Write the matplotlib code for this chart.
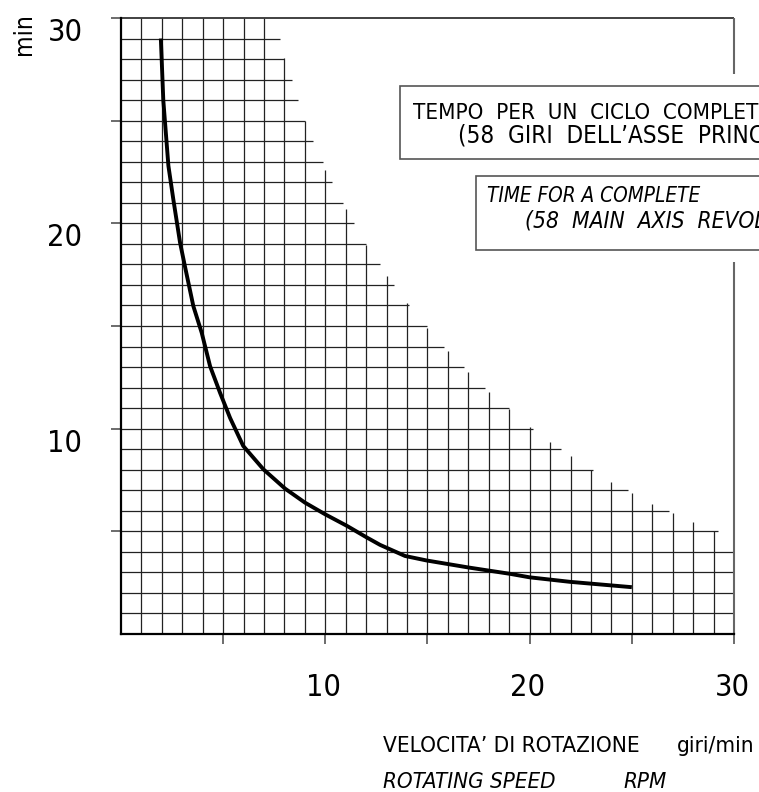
import matplotlib
matplotlib.use("Agg")
import matplotlib.pyplot as plt
import matplotlib.transforms as mtransforms
from matplotlib.patches import Rectangle
from matplotlib import font_manager as fm

# ---------------- data ----------------
speed_rpm = [1.95, 2.07, 2.32, 2.56, 2.89, 3.13, 3.54, 3.95, 4.36, 4.85, 5.34, 5.98,
             6.97, 8.03, 9.0, 9.99, 11.05, 12.03, 12.68, 13.9, 14.96, 17.0, 19.04,
             20.0, 21.98, 25.0]
time_min = [29.0, 26.0, 22.8, 21.17, 19.06, 17.9, 15.97, 14.67, 13.04, 11.74, 10.52,
            9.16, 8.02, 7.08, 6.4, 5.83, 5.27, 4.7, 4.34, 3.8, 3.58, 3.24, 2.93,
            2.76, 2.54, 2.28]

# staircase grid: top of each vertical grid line (x = 1..29)
grid_x = list(range(1, 30))
grid_x_top = [30, 30, 30, 30, 30, 30, 30, 28.05, 25.0, 22.6, 20.7, 18.95, 17.45,
              16.1, 14.9, 13.8, 12.75, 11.8, 10.95, 10.1, 9.37, 8.65, 8.0, 7.42,
              6.88, 6.34, 5.9, 5.46, 5.0]
# right end of each horizontal grid line (y = 1..29)
grid_y = list(range(1, 30))
grid_y_end = [30, 30, 30, 30, 29.2, 26.8, 24.8, 23.08, 21.54, 20.18, 19.0, 17.8,
              16.8, 15.83, 14.96, 14.1, 13.38, 12.68, 12.0, 11.42, 10.85, 10.34,
              9.87, 9.4, 9.0, 8.67, 8.35, 8.0, 7.8]

x_tick_labels = ["10", "20", "30"]
x_tick_vals = [10, 20, 30]
y_tick_labels = ["10", "20", "30"]
y_tick_vals = [10, 20, 30]

box1_line1 = ["TEMPO", "PER", "UN", "CICLO", "COMPLETO"]
box1_line2 = ["(58", "GIRI", "DELL’ASSE", "PRINCIPALE)"]
box2_line1 = ["TIME", "FOR", "A", "COMPLETE"]
box2_line2 = ["(58", "MAIN", "AXIS", "REVOLUTIONS)"]

# ---------------- font choice: prefer a narrow face ----------------
family, stretch = "Liberation Sans", "normal"
for f in fm.fontManager.ttflist:
    fname = f.fname.lower()
    if ("narrow" in f.name.lower() or "condensed" in f.name.lower()
            or "condensed" in fname or "narrow" in fname) and f.style == "normal":
        if "mono" in fname or "serif" in f.name.lower() and "sans" not in f.name.lower():
            continue
        family, stretch = f.name, f.stretch
        break
plt.rcParams["font.family"] = [family, "Liberation Sans", "DejaVu Sans"]

# ---------------- figure ----------------
W, H = 759, 792
fig = plt.figure(figsize=(W / 100, H / 100), dpi=100)
fig.patch.set_facecolor("white")
renderer = fig.canvas.get_renderer()

def fx(px):
    return px / W

def fy(py):
    return 1 - py / H

def cap_size(cap_px):
    # font size (pt) giving a capital height of cap_px pixels
    return cap_px / 0.729 / (100 / 72)

def width_of(s, size, style="normal"):
    t = fig.text(0, 0, s, fontsize=size, style=style, fontstretch=stretch)
    w = t.get_window_extent(renderer).width
    t.remove()
    return w

def fit_size(s, width_px, cap_px, style="normal"):
    w = width_of(s, 20, style)
    return min(20 * width_px / w, cap_size(cap_px) * 1.06)

def spaced_line(x0, y0, words, n_vis, last_vis, target_w, cap_px, style="normal"):
    """Wide CAD-like word spacing: choose the number of spaces so that the visible
    part of the line spans about the same width as in the drawing."""
    base = cap_size(cap_px)
    vis_words = words[:n_vis - 1] + [last_vis]
    best = None
    for n in range(1, 3):
        w = width_of((" " * n).join(vis_words), base, style)
        if best is None or abs(w - target_w) < abs(best[1] - target_w):
            best = (n, w)
    n, w = best
    size = base * min(max(target_w / w, 1.0), 1.1)
    fig.text(fx(x0), fy(y0), (" " * n).join(words), ha="left", va="baseline",
             fontsize=size, fontstretch=stretch, style=style, zorder=6)

ax_left, ax_right, ax_top, ax_bot = 121, 734, 18, 634
ax = fig.add_axes([fx(ax_left), fy(ax_bot), (ax_right - ax_left) / W, (ax_bot - ax_top) / H])
ax.set_xlim(0, 30)
ax.set_ylim(0, 30)
ax.set_facecolor("none")
for s in ["top", "right"]:
    ax.spines[s].set_visible(False)
for s in ["left", "bottom"]:
    ax.spines[s].set_linewidth(1.6)
    ax.spines[s].set_color("black")
ax.set_xticks([5, 10, 15, 20, 25, 30])
ax.set_yticks([5, 10, 15, 20, 25, 30])
ax.set_xticklabels([])
ax.set_yticklabels([])
ax.tick_params(axis="both", direction="out", length=7.5, width=1.1, color="#444")

# grid
ax.vlines(grid_x, 0, grid_x_top, colors="#222", linewidth=0.9, zorder=1)
ax.hlines(grid_y, 0, grid_y_end, colors="#222", linewidth=0.9, zorder=1)

# top border and right border (interrupted by the caption boxes)
ax.hlines([30], 0, 30, colors="#333", linewidth=1.3, zorder=2, clip_on=False)
ax.vlines([30, 30], [27.25, 0], [30, 18.1], colors="#666", linewidth=1.5, zorder=2,
          clip_on=False)

# curve
ax.plot(speed_rpm, time_min, color="black", linewidth=2.8, solid_capstyle="butt",
        solid_joinstyle="round", zorder=4)

# tick labels
num_size = 22
tx = mtransforms.blended_transform_factory(ax.transData, fig.transFigure)
for v, lab in zip(x_tick_vals, x_tick_labels):
    ax.text(v - 0.1, fy(696), lab, transform=tx, ha="center", va="baseline",
            fontsize=num_size, fontstretch=stretch, color="black")
ty = mtransforms.blended_transform_factory(fig.transFigure, ax.transData)
for v, lab in zip(y_tick_vals, y_tick_labels):
    ax.text(fx(65), v - 1.12, lab, transform=ty, ha="center", va="baseline",
            fontsize=num_size, fontstretch=stretch, color="black")

# y unit
min_size = fit_size("min", 42, 17)
fig.text(fx(24), fy(34), "min", rotation=90, ha="center", va="center",
         fontsize=min_size, fontstretch=stretch)

# caption boxes
fig.patches.append(Rectangle((fx(400), fy(159)), fx(600), (159 - 86) / H,
                             transform=fig.transFigure, facecolor="white",
                             edgecolor="#555", linewidth=1.2, zorder=5))
fig.patches.append(Rectangle((fx(476), fy(250)), fx(600), (250 - 176) / H,
                             transform=fig.transFigure, facecolor="white",
                             edgecolor="#555", linewidth=1.2, zorder=5))
spaced_line(413, 119, box1_line1, 5, "COMPLE", 334, 16)
spaced_line(458, 143, box1_line2, 4, "PRI", 290, 16)
spaced_line(487, 202, box2_line1, 4, "COMPLETE", 213, 15, "italic")
spaced_line(525, 227, box2_line2, 4, "RE", 233, 15, "italic")

# axis title
t1 = fit_size("VELOCITA’ DI ROTAZIONE", 257, 17)
t2 = fit_size("ROTATING SPEED", 172, 17, "italic")
fig.text(fx(383), fy(752), "VELOCITA’ DI ROTAZIONE", ha="left", va="baseline",
         fontsize=t1, fontstretch=stretch)
fig.text(fx(755), fy(752), "giri/min", ha="right", va="baseline", fontsize=t1,
         fontstretch=stretch)
fig.text(fx(383), fy(788), "ROTATING SPEED", ha="left", va="baseline", fontsize=t2,
         fontstretch=stretch, style="italic")
fig.text(fx(623), fy(788), "RPM", ha="left", va="baseline", fontsize=t2,
         fontstretch=stretch, style="italic")

fig.savefig("out.png", dpi=100)
